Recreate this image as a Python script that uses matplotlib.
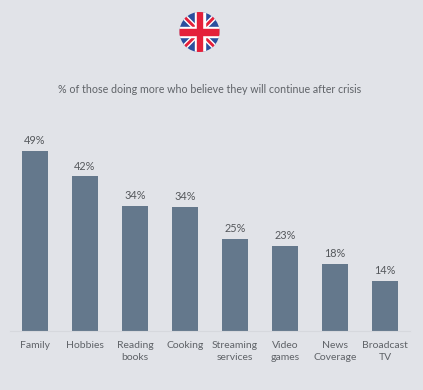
import numpy as np
import matplotlib
matplotlib.use("Agg")
import matplotlib.pyplot as plt
from matplotlib.patches import Circle, Polygon, Rectangle

categories = ["Family", "Hobbies", "Reading\nbooks", "Cooking", "Streaming\nservices",
              "Video\ngames", "News\nCoverage", "Broadcast\nTV"]
values = [49, 42, 34, 33.7, 25, 23.2, 18.2, 13.7]
title = "% of those doing more who believe they will continue after crisis"

BG = "#e1e3e8"
BAR = "#64788c"
TXT = "#5f6368"
W, H = 423, 390

plt.rcParams['font.family'] = ['Lato', 'DejaVu Sans']

fig = plt.figure(figsize=(W / 100, H / 100), dpi=100, facecolor=BG)

# bars, baseline at y=331px
ax = fig.add_axes([10 / W, 1 - 331 / H, 400 / W, 231 / H])
ax.set_facecolor("none")
x = np.arange(len(values))
ax.bar(x, values, width=0.52, color=BAR, edgecolor="none")
ax.set_xlim(-0.5, 7.5)
ax.set_ylim(0, 231 / 3.68)
ax.set_yticks([])
ax.set_xticks(x)
ax.set_xticklabels(categories, fontsize=7.5, color=TXT, linespacing=1.3)
ax.tick_params(axis="x", length=0, pad=7.5)
for s in ["top", "left", "right"]:
    ax.spines[s].set_visible(False)
ax.spines["bottom"].set_color("#d6d8dd")
ax.spines["bottom"].set_linewidth(0.8)

for xi, v in zip(x, values):
    ax.annotate(f"{v:.0f}%", (xi, v), xytext=(0, 3.5), textcoords="offset points",
                ha="center", va="bottom", fontsize=7.8, color="#55585c")

fig.text(210 / W, 1 - 89.5 / H, title, ha="center", va="center", fontsize=7.7, color=TXT)

# round union flag
flag = fig.add_axes([177.5 / W, 1 - 54 / H, 44 / W, 44 / H])
flag.set_xlim(-22, 22)
flag.set_ylim(-22, 22)
flag.axis("off")
clip = Circle((0, 0), 20, transform=flag.transData)
blue, red = "#2b4f9e", "#e4203a"
shapes = [Rectangle((-22, -22), 44, 44, color=blue)]
for sx in [1, -1]:
    shapes.append(Polygon([(sx * -23.5, -20.5), (sx * -20.5, -23.5), (sx * 23.5, 20.5), (sx * 20.5, 23.5)], color="white"))
    shapes.append(Polygon([(sx * -22, -21), (sx * -21, -22), (sx * 22, 21), (sx * 21, 22)], color=red))
shapes.append(Rectangle((-5, -22), 10, 44, color="white"))
shapes.append(Rectangle((-22, -5), 44, 10, color="white"))
shapes.append(Rectangle((-2.6, -22), 5.2, 44, color=red))
shapes.append(Rectangle((-22, -2.6), 44, 5.2, color=red))
for p in shapes:
    flag.add_patch(p)
    p.set_clip_path(clip)

fig.savefig("out.png", dpi=100, facecolor=BG)
